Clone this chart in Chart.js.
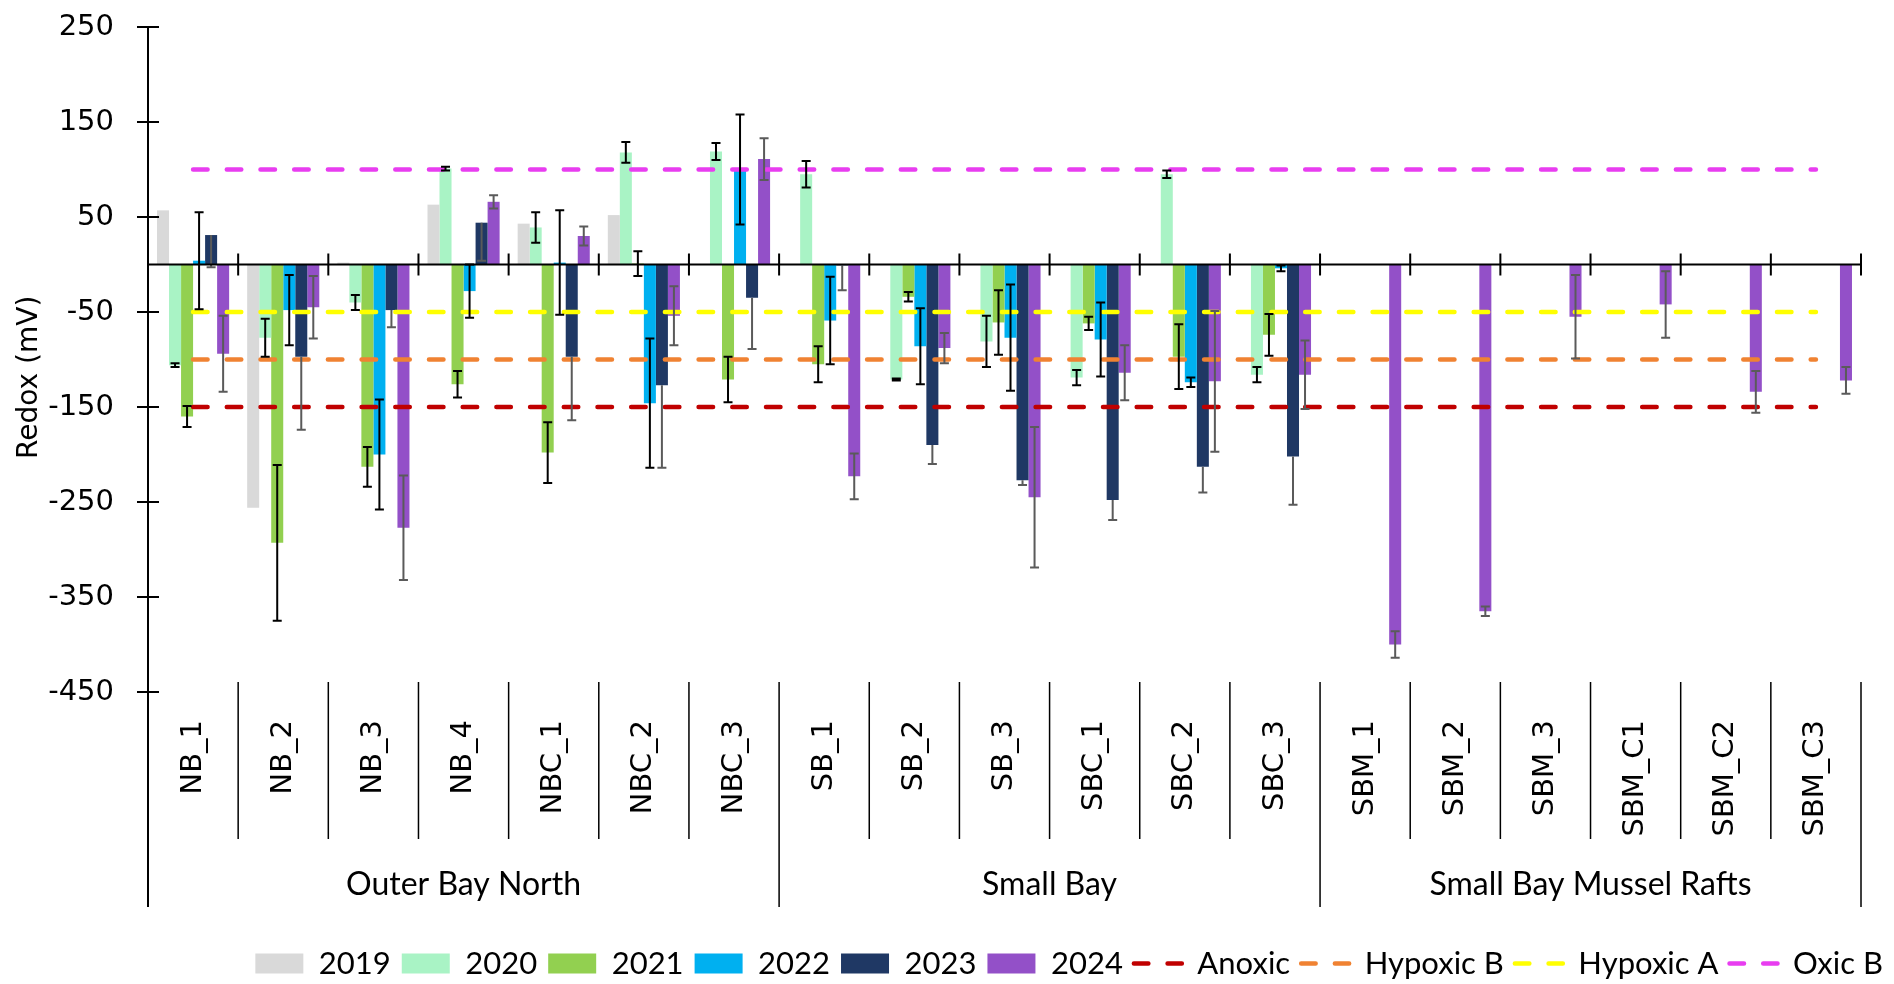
<!DOCTYPE html>
<html>
<head>
<meta charset="utf-8">
<title>Redox by station</title>
<script src="https://cdn.jsdelivr.net/npm/chart.js@4.4.1/dist/chart.umd.min.js"></script>
<style>
  html, body { margin: 0; padding: 0; background: #fff; }
  #wrap { width: 1894px; height: 984px; }
</style>
</head>
<body>
<div id="wrap"><canvas id="redoxChart"></canvas></div>
<script>
// ===== Data =====
const stations = ['NB_1', 'NB_2', 'NB_3', 'NB_4', 'NBC_1', 'NBC_2', 'NBC_3',
                  'SB_1', 'SB_2', 'SB_3', 'SBC_1', 'SBC_2', 'SBC_3',
                  'SBM_1', 'SBM_2', 'SBM_3', 'SBM_C1', 'SBM_C2', 'SBM_C3'];
const groupNames = ['Outer Bay North', 'Small Bay', 'Small Bay Mussel Rafts'];
const groupSizes = [7, 6, 6];

const yMin = -450;
const yMax = 250;
const yStep = 100;

const redox2019 = [57, -256, 2, 63, 43, 52, null, null, null, null, null, null, null, null, null, null, null, null, null];

const redox2020 = [-106, -77, -40, 101, 39, 118, 119, 95, -121, -81, -119, 95, -116, null, null, null, null, null, null];
const err2020   = [2, 20, 8, 2, 16, 11, 9, 14, 1, 27, 8, 4, 8, null, null, null, null, null, null];

const redox2021 = [-160, -293, -213, -126, -198, 1, -121, -105, -34, -61, -62, -97, -74, null, null, null, null, null, null];
const err2021   = [11, 82, 21, 14, 32, 13, 24, 19, 5, 34, 7, 34, 22, null, null, null, null, null, null];

const redox2022 = [4, -48, -200, -28, 2, -146, 100, -59, -86, -77, -79, -124, -4, null, null, null, null, null, null];
const err2022   = [51, 37, 58, 28, 55, 68, 58, 46, 40, 56, 39, 5, 3, null, null, null, null, null, null];

// 2023 error bars only go in the minus direction
const redox2023 = [31, -97, -48, 44, -97, -127, -35, -1, -190, -227, -248, -213, -202, null, null, null, null, null, null];
const err2023   = [34, 77, 18, 40, 67, 87, 54, 26, 20, 5, 21, 27, 51, null, null, null, null, null, null];

const redox2024 = [-94, -45, -277, 66, 30, -54, 111, -223, -88, -245, -114, -123, -116, -400, -365, -55, -42, -134, -122];
const err2024   = [40, 33, 55, 7, 10, 31, 22, 24, 16, 74, 29, 74, 36, 14, 5, 44, 35, 22, 14];

const thresholdNames  = ['Anoxic', 'Hypoxic B', 'Hypoxic A', 'Oxic B'];
const thresholdValues = [-150, -100, -50, 100];
const thresholdColors = ['#C00000', '#F08232', '#FFFF00', '#E83DF0'];

// ===== Datasets =====
function barSet(label, data, color, errors, errorColor, errorMode) {
    return {
        type: 'bar',
        label: label,
        data: data,
        backgroundColor: color,
        borderWidth: 0,
        pointStyle: 'rect',
        order: 1,
        errors: errors,
        errorColor: errorColor,
        errorMode: errorMode
    };
}

const datasets = [
    barSet('2019', redox2019, '#D9D9D9', null, '#000', 'both'),
    barSet('2020', redox2020, '#A9F3C5', err2020, '#000', 'both'),
    barSet('2021', redox2021, '#92D050', err2021, '#000', 'both'),
    barSet('2022', redox2022, '#00B0F0', err2022, '#000', 'both'),
    barSet('2023', redox2023, '#1F3864', err2023, '#5A5A5A', 'minus'),
    barSet('2024', redox2024, '#9350C8', err2024, '#5A5A5A', 'both')
];

thresholdNames.forEach((name, k) => {
    datasets.push({
        type: 'line',
        label: name,
        data: stations.map(() => thresholdValues[k]),
        borderColor: thresholdColors[k],
        backgroundColor: thresholdColors[k],
        borderWidth: 4.5,
        borderDash: [14.5, 19.2],
        borderCapStyle: 'round',
        pointRadius: 0,
        pointStyle: 'line',
        fill: false,
        order: 0
    });
});

// ===== Extra drawing: error bars, zero axis, label-area separators, group names =====
const redoxDecor = {
    id: 'redoxDecor',
    afterDatasetsDraw(chart) {
        const { ctx, chartArea: area, scales: { x, y } } = chart;

        // error bars
        chart.data.datasets.forEach((ds, di) => {
            if (!ds.errors) return;
            const meta = chart.getDatasetMeta(di);
            ctx.save();
            ctx.strokeStyle = ds.errorColor;
            ctx.lineWidth = 2;
            meta.data.forEach((bar, i) => {
                const v = ds.data[i];
                const e = ds.errors[i];
                if (v == null || e == null) return;
                const lo = y.getPixelForValue(v - e);
                const hi = ds.errorMode === 'minus' ? y.getPixelForValue(v) : y.getPixelForValue(v + e);
                ctx.beginPath();
                ctx.moveTo(bar.x, hi);
                ctx.lineTo(bar.x, lo);
                ctx.moveTo(bar.x - 4.5, lo);
                ctx.lineTo(bar.x + 4.5, lo);
                if (ds.errorMode !== 'minus') {
                    ctx.moveTo(bar.x - 4.5, hi);
                    ctx.lineTo(bar.x + 4.5, hi);
                }
                ctx.stroke();
            });
            ctx.restore();
        });

        // horizontal axis at zero with cross ticks between categories
        const n = stations.length;
        const w = (x.getPixelForValue(n - 1) - x.getPixelForValue(0)) / (n - 1);
        const edge = i => x.getPixelForValue(0) - w / 2 + i * w;
        const y0 = y.getPixelForValue(0);
        ctx.save();
        ctx.strokeStyle = '#000';
        ctx.lineWidth = 2;
        ctx.beginPath();
        ctx.moveTo(area.left, y0);
        ctx.lineTo(edge(n), y0);
        for (let i = 1; i <= n; i++) {
            ctx.moveTo(edge(i), y0 - 11);
            ctx.lineTo(edge(i), y0 + 11);
        }
        // inner half of the y-axis cross ticks
        y.ticks.forEach(t => {
            const py = y.getPixelForValue(t.value);
            ctx.moveTo(area.left, py);
            ctx.lineTo(area.left + 11, py);
        });
        ctx.stroke();
        ctx.restore();
    },
    afterDraw(chart) {
        const { ctx, chartArea: area, scales: { x } } = chart;
        const n = stations.length;
        const w = (x.getPixelForValue(n - 1) - x.getPixelForValue(0)) / (n - 1);
        const edge = i => x.getPixelForValue(0) - w / 2 + i * w;
        const groupEnds = [];
        let acc = 0;
        groupSizes.forEach(s => { acc += s; groupEnds.push(acc); });

        ctx.save();
        ctx.strokeStyle = '#000';
        ctx.lineWidth = 1.5;
        ctx.beginPath();
        for (let i = 1; i <= n; i++) {
            const isGroup = groupEnds.includes(i);
            ctx.moveTo(edge(i), area.bottom - 10);
            ctx.lineTo(edge(i), area.bottom + (isGroup ? 215 : 147));
        }
        ctx.stroke();
        // y axis runs down through the label area
        ctx.lineWidth = 2;
        ctx.beginPath();
        ctx.moveTo(area.left, area.bottom);
        ctx.lineTo(area.left, area.bottom + 215);
        ctx.stroke();

        ctx.fillStyle = '#000';
        ctx.font = '32px Lato';
        ctx.textAlign = 'center';
        ctx.textBaseline = 'middle';
        let start = 0;
        groupNames.forEach((name, g) => {
            const cx = (edge(start) + edge(start + groupSizes[g])) / 2;
            ctx.fillText(name, cx, area.bottom + 193);
            start += groupSizes[g];
        });
        ctx.restore();
    }
};

// legend items: keep the dashed look of the threshold lines
function legendItems(chart) {
    const items = Chart.defaults.plugins.legend.labels.generateLabels(chart);
    return items.map(item => {
        const ds = chart.data.datasets[item.datasetIndex];
        if (ds.type === 'line') {
            item.lineDash = ds.borderDash;
            item.lineCap = 'round';
            item.lineWidth = ds.borderWidth;
            item.strokeStyle = ds.borderColor;
        }
        return item;
    });
}

// ===== Chart =====
const ctx = document.getElementById('redoxChart').getContext('2d');
new Chart(ctx, {
    type: 'bar',
    data: { labels: stations, datasets: datasets },
    plugins: [redoxDecor],
    options: {
        responsive: true,
        maintainAspectRatio: false,
        animation: false,
        devicePixelRatio: 1,
        layout: { padding: { left: 0, right: 0, top: 27, bottom: -5 } },
        datasets: {
            bar: { categoryPercentage: 0.8, barPercentage: 1.0 }
        },
        plugins: {
            tooltip: { enabled: false },
            legend: {
                position: 'bottom',
                align: 'end',
                labels: {
                    usePointStyle: true,
                    pointStyleWidth: 48,
                    boxHeight: 20,
                    padding: 11,
                    color: '#000',
                    font: { family: 'Lato', size: 31 },
                    generateLabels: legendItems,
                    sort: (a, b) => a.datasetIndex - b.datasetIndex
                }
            }
        },
        scales: {
            x: {
                position: 'bottom',
                grid: { display: false, drawTicks: false },
                border: { display: false },
                ticks: {
                    autoSkip: false,
                    minRotation: 90,
                    maxRotation: 90,
                    padding: 28,
                    color: '#000',
                    font: { family: 'DejaVu Sans', size: 29 }
                },
                afterFit: s => { s.height = 245; }
            },
            y: {
                min: yMin,
                max: yMax,
                ticks: {
                    stepSize: yStep,
                    padding: 23,
                    color: '#000',
                    font: { family: 'DejaVu Sans', size: 29 }
                },
                grid: { display: true, drawOnChartArea: false, drawTicks: true, tickLength: 11, color: '#000', lineWidth: 2 },
                border: { display: true, color: '#000', width: 2 },
                title: {
                    display: true,
                    text: 'Redox (mV)    ',
                    color: '#000',
                    font: { family: 'DejaVu Sans', size: 28 },
                    padding: { top: 13, bottom: 0 }
                },
                afterFit: s => {
                    s.width = 148;
                    s.paddingTop = 0;
                    s.paddingBottom = 0;
                }
            },
            yRight: {
                position: 'right',
                display: true,
                grid: { display: false, drawTicks: false },
                border: { display: false },
                ticks: { display: false },
                afterFit: s => { s.width = 33; }
            }
        }
    }
});
</script>
</body>
</html>
